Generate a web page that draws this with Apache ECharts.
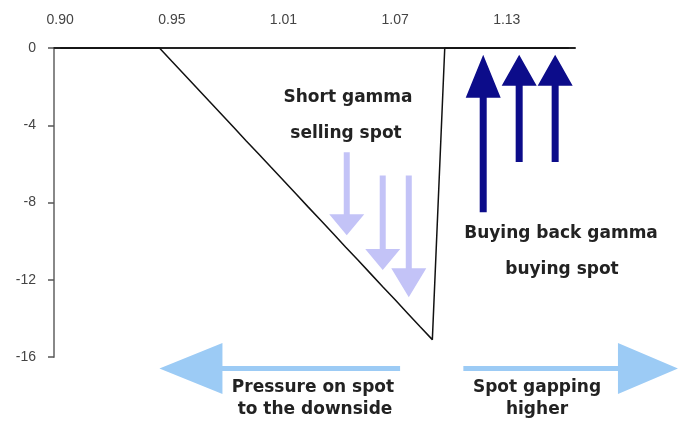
<!DOCTYPE html>
<html>
<head>
<meta charset="utf-8">
<script src="https://cdn.jsdelivr.net/npm/echarts@6/dist/echarts.min.js"></script>
<style>
html,body{margin:0;padding:0;background:#fff;}
#chart{width:685px;height:422px;}
</style>
</head>
<body>
<div id="chart"></div>
<script>
// Spot levels (category axis)
var categories = ["0.896","0.902","0.909","0.915","0.922","0.928","0.934","0.941","0.947",
  "0.954","0.960","0.966","0.973","0.979","0.986","0.992","0.998","1.005",
  "1.011","1.018","1.024","1.030","1.037","1.043","1.050","1.056","1.062",
  "1.069","1.075","1.082","1.088","1.094","1.101","1.107","1.114","1.120",
  "1.126","1.133","1.139","1.146","1.152","1.158"];
// Gamma profile values
var gammaValues = [0,0,0,0,0,0,0,0,0,
  -0.69,-1.37,-2.06,-2.75,-3.43,-4.12,-4.81,-5.49,-6.18,
  -6.86,-7.55,-8.24,-8.92,-9.61,-10.30,-10.98,-11.67,-12.36,
  -13.04,-13.73,-14.42,-15.10,0,0,0,0,0,
  0,0,0,0,0,0];
var yTicks = [0, -4, -8, -12, -16];
// Annotation arrows: [x (category index), yStart, yEnd]
var sellArrows = [[23.1, -5.4, -9.7], [26.0, -6.6, -11.5], [28.1, -6.6, -12.9]];
var buyArrows = [[34.1, -8.5, -0.35], [37.0, -5.9, -0.35], [39.9, -5.9, -0.35]];
// Horizontal arrows: [xStart, xEnd, y]
var flowArrows = [[27.4, 8.0, -16.6], [32.5, 49.8, -16.6]];

function arrowSeries(name, data, color, shaftW, headW, headLens, horizontal) {
  return {
    name: name,
    type: 'custom',
    xAxisIndex: 1,
    yAxisIndex: 0,
    clip: false,
    silent: true,
    z: 3,
    data: data,
    encode: { x: horizontal ? [0, 1] : 0, y: horizontal ? 2 : [1, 2] },
    renderItem: function (params, api) {
      var p0, p1;
      if (horizontal) {
        p0 = api.coord([api.value(0), api.value(2)]);
        p1 = api.coord([api.value(1), api.value(2)]);
      } else {
        p0 = api.coord([api.value(0), api.value(1)]);
        p1 = api.coord([api.value(0), api.value(2)]);
      }
      var hl = headLens[params.dataIndex];
      var dx = p1[0] - p0[0], dy = p1[1] - p0[1];
      var len = Math.sqrt(dx * dx + dy * dy);
      var ux = dx / len, uy = dy / len;
      var nx = -uy, ny = ux;
      var bx = p1[0] - ux * hl, by = p1[1] - uy * hl;
      var s = shaftW / 2, h = headW / 2;
      var pts = [
        [p0[0] + nx * s, p0[1] + ny * s],
        [bx + nx * s, by + ny * s],
        [bx + nx * h, by + ny * h],
        [p1[0], p1[1]],
        [bx - nx * h, by - ny * h],
        [bx - nx * s, by - ny * s],
        [p0[0] - nx * s, p0[1] - ny * s]
      ];
      return { type: 'polygon', shape: { points: pts }, style: { fill: color } };
    }
  };
}

var textStyleBase = {
  fontFamily: 'DejaVu Sans',
  fontWeight: 'bold',
  fontSize: 17,
  fill: '#222',
  textAlign: 'center',
  textVerticalAlign: 'middle'
};
function ctext(text, cx, cy) {
  return { type: 'text', x: cx, y: cy, style: Object.assign({ text: text }, textStyleBase) };
}

var chart = echarts.init(document.getElementById('chart'));
chart.setOption({
  animation: false,
  backgroundColor: '#fff',
  grid: { left: 54, right: 110, top: 48, bottom: 65 },
  xAxis: [{
    type: 'category',
    position: 'top',
    data: categories,
    boundaryGap: true,
    axisLine: { show: true, onZero: false, lineStyle: { color: '#222', width: 2 } },
    axisTick: { show: false },
    axisLabel: {
      interval: 8,
      margin: 21,
      color: '#444',
      fontSize: 14,
      fontFamily: 'Liberation Sans',
      formatter: function (v) { return Number(v).toFixed(2); }
    },
    splitLine: { show: false }
  }, {
    type: 'value',
    min: -0.5,
    max: categories.length - 0.5,
    show: false
  }],
  yAxis: {
    type: 'value',
    min: yTicks[yTicks.length - 1],
    max: yTicks[0],
    interval: 4,
    axisLine: { show: true, onZero: false, lineStyle: { color: '#888', width: 2 } },
    axisTick: { show: true, length: 6, lineStyle: { color: '#555', width: 1.5 } },
    axisLabel: { color: '#444', fontSize: 14, fontFamily: 'Liberation Sans', margin: 18 },
    splitLine: { show: false }
  },
  series: [
    {
      name: 'Gamma',
      type: 'line',
      data: gammaValues,
      symbol: 'none',
      z: 4,
      lineStyle: { color: '#111', width: 1.5 }
    },
    arrowSeries('Selling spot', sellArrows, '#c3c3f7', 6, 35, [21, 21, 29], false),
    arrowSeries('Buying spot', buyArrows, '#0c0c8a', 7, 35, [43, 31, 31], false),
    arrowSeries('Spot move', flowArrows, '#9ccbf5', 5, 51, [63, 60], true)
  ],
  graphic: [
    ctext('Short gamma', 348, 98),
    ctext('selling spot', 346, 134),
    ctext('Buying back gamma', 561, 234),
    ctext('buying spot', 562, 270),
    ctext('Pressure on spot', 313, 388),
    ctext('to the downside', 315, 410),
    ctext('Spot gapping', 537, 388),
    ctext('higher', 537, 410)
  ]
});
</script>
</body>
</html>
